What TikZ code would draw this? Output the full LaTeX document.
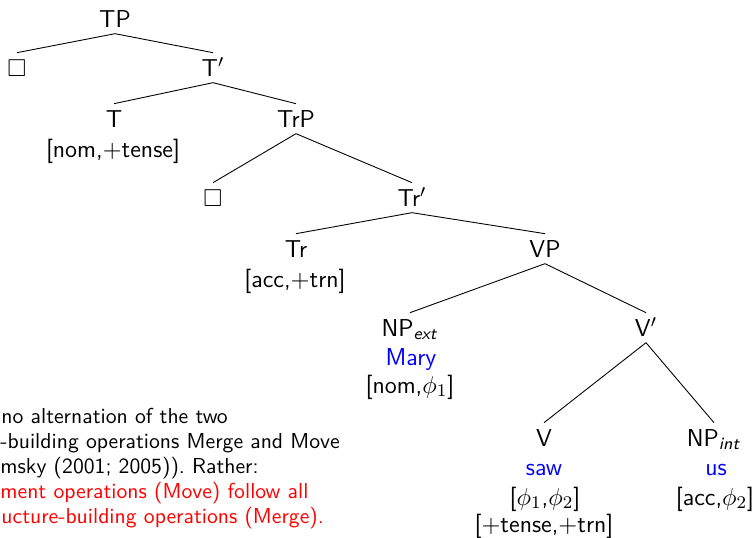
\documentclass[tikz,border=0pt]{standalone}
\usepackage{amsmath}
\usepackage{amssymb}
\usepackage{xcolor}
\usepackage{tikz}

\begin{document}
\begin{tikzpicture}[
			     x=0.45pt, y=-0.45pt,
			     font=\sffamily\fontsize{11}{13.5}\selectfont,
			     cat/.style={anchor=base, inner sep=1.8pt, text height=8.5pt, text depth=1pt},
			     feat/.style={anchor=base, inner sep=0pt},
			     word/.style={anchor=base, inner sep=0pt, text=blue},
			     note/.style={anchor=base west, inner sep=0pt, font=\sffamily\fontsize{9.75}{11}\selectfont},
			     branch/.style={-}
			     ]
\useasboundingbox (0,0) rectangle (755,537);
% tree
\node[cat] (tp)   at (115,27)  {TP};
\node[cat] (sqa)  at (17,76)   {$\square$};
\node[cat] (tbar) at (213,76)  {T$'$};
\node[cat] (t)    at (114,127) {T};
\node[feat] (tfeat) at (113,157) {[nom,$+$tense]};
\node[cat] (trp)  at (296,127) {TrP};
\node[cat] (sqb)  at (213,206) {$\square$};
\node[cat] (trbar) at (412,206) {Tr$'$};
\node[cat] (tr)   at (296,257) {Tr};
\node[feat] (trfeat) at (295,287) {[acc,$+$trn]};
\node[cat] (vp)   at (545,257) {VP};
\node[cat] (npext) at (410,336) {NP\textsubscript{\textit{ext}}};
\node[word] (mary) at (411,365) {Mary};
\node[feat] (npextfeat) at (410,393) {[nom,$\phi_1$]};
\node[cat] (vbar) at (646,336) {V$'$};
\node[cat] (v)    at (544,446) {V};
\node[word] (saw) at (544,475) {saw};
\node[feat] (vfeat) at (545,505) {[$\phi_1$,$\phi_2$]};
\node[feat] (vfeatb) at (544,532) {[$+$tense,$+$trn]};
\node[cat] (npint) at (714,446) {NP\textsubscript{\textit{int}}};
\node[word] (us) at (716,475) {us};
\node[feat] (npintfeat) at (715,505) {[acc,$\phi_2$]};
% branches
\path (tp.south) edge[branch] (sqa.north);
\path (tp.south) edge[branch] (tbar.north);
\path (tbar.south) edge[branch] (t.north);
\path (tbar.south) edge[branch] (trp.north);
\path (trp.south) edge[branch] (sqb.north);
\path (trp.south) edge[branch] (trbar.north);
\path (trbar.south) edge[branch] (tr.north);
\path (trbar.south) edge[branch] (vp.north);
\path (vp.south) edge[branch] (npext.north);
\path (vp.south) edge[branch] (vbar.north);
\path (vbar.south) edge[branch] (v.north);
\path (vbar.south) edge[branch] (npint.north);
% remark on the left
\node[note] (notea) at (1,423) {no alternation of the two};
\node[note] (noteb) at (0,448) {-building operations Merge and Move};
\node[note] (notec) at (0,473) {msky (2001; 2005)).\ Rather:};
\node[note, text=red] (noted) at (0,498) {ment operations (Move) follow all};
\node[note, text=red] (notee) at (1,523) {ucture-building operations (Merge).};
\end{tikzpicture}
\end{document}
